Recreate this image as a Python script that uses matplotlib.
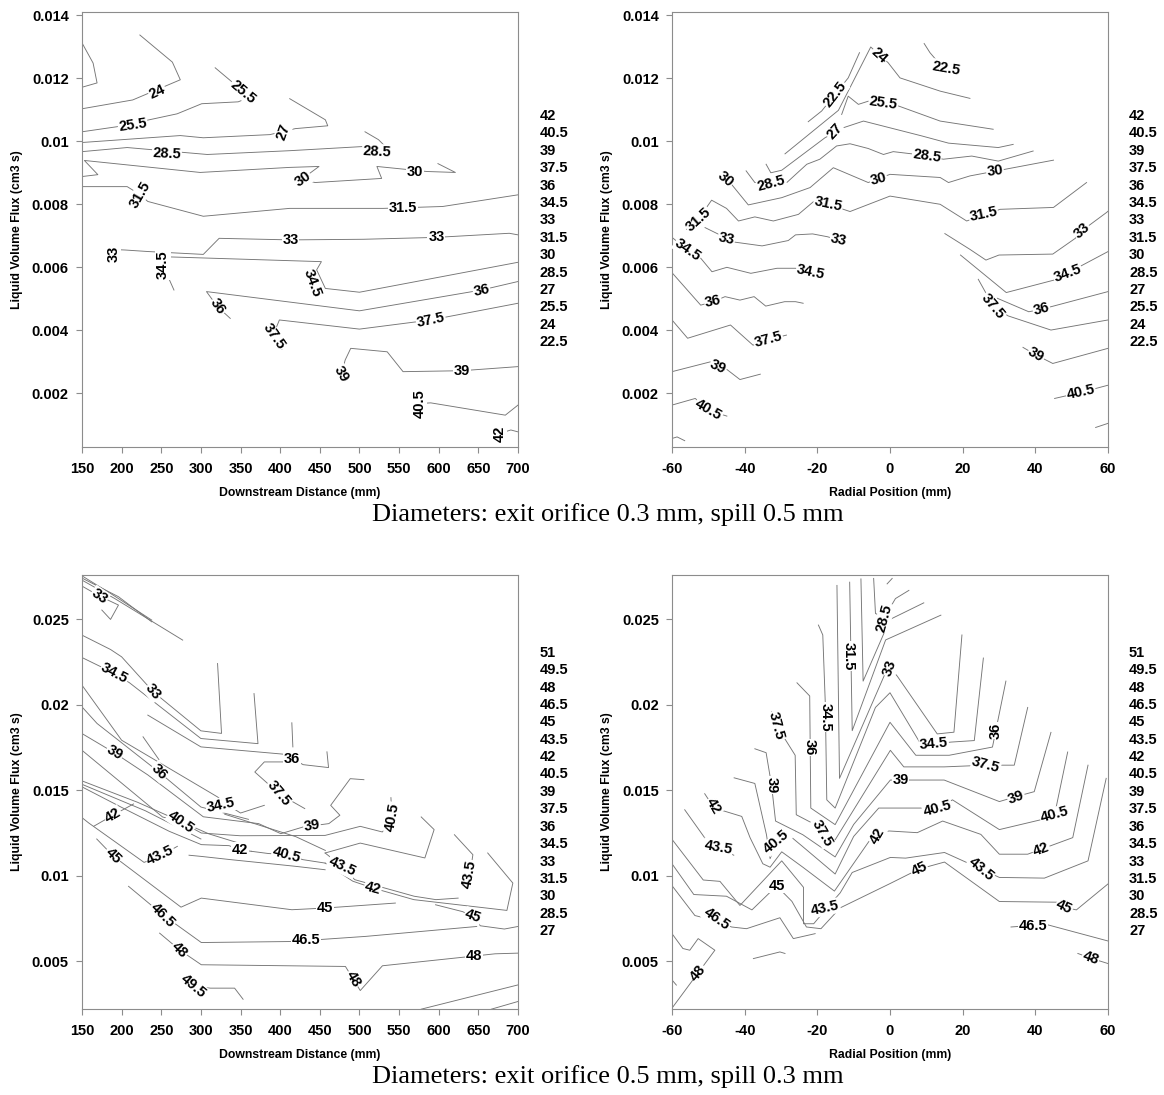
import matplotlib
matplotlib.use("Agg")
import matplotlib.pyplot as plt
from matplotlib.ticker import FuncFormatter

# contour levels listed beside each row of panels
top_levels = [42, 40.5, 39, 37.5, 36, 34.5, 33, 31.5, 30, 28.5, 27, 25.5, 24, 22.5]
bottom_levels = [51, 49.5, 48, 46.5, 45, 43.5, 42, 40.5, 39, 37.5, 36, 34.5, 33, 31.5, 30, 28.5, 27]

distance_ticks = [150, 200, 250, 300, 350, 400, 450, 500, 550, 600, 650, 700]
radial_ticks = [-60, -40, -20, 0, 20, 40, 60]
top_flux_ticks = [0.002, 0.004, 0.006, 0.008, 0.01, 0.012, 0.014]
bottom_flux_ticks = [0.005, 0.01, 0.015, 0.02, 0.025]

captions = ["Diameters: exit orifice 0.3 mm, spill 0.5 mm",
            "Diameters: exit orifice 0.5 mm, spill 0.3 mm"]

# contour pieces: (level, x values, flux values)
tl_lines = [
    (22.5, [150, 164, 169, 151], [0.01312, 0.01248, 0.01185, 0.01172]),
    (24, [150, 214, 274, 264, 223], [0.01103, 0.01131, 0.01195, 0.01251, 0.01337]),
    (25.5, [150, 194, 270, 301, 347, 362, 318], [0.0103, 0.01046, 0.01087, 0.01119, 0.01125, 0.0114, 0.01233]),
    (27, [150, 274, 303, 387, 419, 460, 457, 412], [0.00996, 0.01018, 0.01011, 0.01021, 0.0104, 0.01049, 0.01068, 0.01135]),
    (28.5, [150, 207, 308, 412, 503, 538, 524, 507], [0.00967, 0.0098, 0.00958, 0.0097, 0.00983, 0.0097, 0.01005, 0.0103]),
    (30, [150, 170, 153, 299, 412, 449, 435, 429, 444, 528, 522, 585, 621, 599],
     [0.00888, 0.00894, 0.00939, 0.00901, 0.00917, 0.0092, 0.00894, 0.00879, 0.00869, 0.00882, 0.0092, 0.00904, 0.00901, 0.00929]),
    (31.5, [150, 207, 223, 233, 303, 412, 530, 605, 700], [0.00856, 0.00856, 0.00831, 0.00809, 0.00762, 0.00787, 0.00787, 0.00793, 0.0083]),
    (33, [185, 204, 234, 303, 323, 413, 505, 597, 689, 700], [0.00657, 0.00655, 0.0065, 0.00641, 0.00692, 0.00687, 0.00689, 0.00695, 0.00708, 0.00703]),
    (34.5, [266, 252, 261, 452, 446, 457, 500, 700], [0.00528, 0.00607, 0.00633, 0.00618, 0.00592, 0.00533, 0.00521, 0.00616]),
    (36, [337, 321, 307, 500, 654, 700], [0.00438, 0.00475, 0.00523, 0.00462, 0.00528, 0.00555]),
    (37.5, [402, 392, 399, 500, 590, 700], [0.0034, 0.0039, 0.00433, 0.00404, 0.00433, 0.00486]),
    (39, [477, 482, 489, 535, 555, 629, 700], [0.0026, 0.00306, 0.00343, 0.00332, 0.00269, 0.00272, 0.00285]),
    (40.5, [576, 590, 684, 700], [0.00168, 0.0017, 0.00131, 0.00163]),
    (42, [677, 691, 700], [0.00073, 0.00084, 0.00078]),
]
tl_labels = [
    (24, 245, 0.01157, 25), (25.5, 214, 0.01052, 8), (25.5, 353, 0.01157, -40),
    (27, 404, 0.0103, 70), (28.5, 257, 0.00961, -3), (28.5, 522, 0.00967, -3),
    (30, 429, 0.00879, 35), (30, 570, 0.00904, 0), (31.5, 223, 0.00831, 60),
    (31.5, 555, 0.00787, 0), (33, 190, 0.00644, 90), (33, 413, 0.00687, 0),
    (33, 597, 0.00695, 0), (34.5, 252, 0.00607, 90), (34.5, 440, 0.00549, -70),
    (36, 321, 0.00475, -55), (36, 654, 0.00528, 12), (37.5, 392, 0.0038, -55),
    (37.5, 590, 0.00433, 12), (39, 477, 0.00263, -60), (39, 629, 0.00272, 0),
    (40.5, 576, 0.00168, 90), (42, 677, 0.00073, 90),
]

tr_lines = [
    (22.5, [-22.5, -18.8, -11.5, -8.4], [0.01062, 0.01096, 0.01201, 0.01281]),
    (22.5, [9.4, 11.0, 14.2], [0.0131, 0.01281, 0.01238]),
    (24, [-28.9, -14.2, -5.3, -0.5, 2.75, 13.8, 22.0], [0.0096, 0.01098, 0.01299, 0.01249, 0.01201, 0.01159, 0.01136]),
    (25.5, [-13.3, -11.5, -8.7, -6, 2.3, 13.8, 28.4], [0.01085, 0.01143, 0.01117, 0.01127, 0.01112, 0.01064, 0.01038]),
    (27, [-34.1, -32.8, -29.8, -17.9, -12.8, -7.3, 8.7, 16.1, 29.8, 33.9],
     [0.00927, 0.009, 0.00908, 0.01011, 0.01043, 0.01064, 0.01017, 0.00994, 0.0098, 0.0099]),
    (28.5, [-39.6, -37.2, -28.4, -22.9, -19.3, -14.7, -11.0, -6, -1.8, 0.9, 6.0, 14.7, 22.5, 29.8, 39.4],
     [0.00906, 0.00869, 0.00869, 0.00927, 0.00943, 0.00985, 0.00992, 0.00977, 0.00958, 0.00967, 0.0096, 0.00943, 0.00953, 0.00937, 0.00969]),
    (30, [-45.4, -43.6, -39, -29.8, -22.0, -15.6, -6, 0, 13.8, 16.1, 22.0, 45],
     [0.00879, 0.00863, 0.00798, 0.00821, 0.00853, 0.00916, 0.00869, 0.00895, 0.00885, 0.00869, 0.0089, 0.0094]),
    (31.5, [-56, -52.8, -49.1, -45, -41.7, -37.2, -32.1, -25.2, -21.1, -17, -11, 0, 13.8, 21.1, 30.3, 45, 54.1],
     [0.00721, 0.00752, 0.00813, 0.00787, 0.00747, 0.0076, 0.00747, 0.00768, 0.00808, 0.008, 0.00777, 0.00826, 0.008, 0.00747, 0.00784, 0.0079, 0.00869]),
    (33, [-50.9, -47.2, -43.4, -35.2, -28, -26, -21.3, -17.2, -14.2],
     [0.00726, 0.00705, 0.00681, 0.00668, 0.00685, 0.00703, 0.00706, 0.00697, 0.00687]),
    (33, [15.1, 22, 26.4, 30, 44.8, 51, 52.8, 59.6, 60], [0.00707, 0.00657, 0.00623, 0.00639, 0.00642, 0.00692, 0.00716, 0.00774, 0.00778]),
    (34.5, [-60, -55.7, -52.1, -49, -44.9, -38.3, -31.1, -26, -21.8],
     [0.00695, 0.00655, 0.00629, 0.00586, 0.006, 0.00581, 0.00597, 0.00597, 0.00586]),
    (34.5, [19.4, 32, 45.3, 48.9, 60], [0.00639, 0.0052, 0.0056, 0.00582, 0.0065]),
    (36, [-60, -52.1, -48.7, -45.4, -41.3, -37.4, -34.2, -29, -26, -23.9],
     [0.00583, 0.0048, 0.00491, 0.00507, 0.00496, 0.00507, 0.00477, 0.00491, 0.00491, 0.00486]),
    (36, [29.5, 38.2, 41.7, 60], [0.00502, 0.00459, 0.00467, 0.00523]),
    (37.5, [-60, -55.7, -43.9, -37.7, -33.5, -28.5], [0.00433, 0.00375, 0.00417, 0.00353, 0.0037, 0.00385]),
    (37.5, [24.3, 28.4, 32.5, 44.3, 60], [0.00562, 0.00477, 0.00446, 0.00401, 0.00433]),
    (39, [-60, -49.5, -47.3, -44.9, -41.3, -35.7], [0.00269, 0.003, 0.00285, 0.00276, 0.00244, 0.00261]),
    (39, [36.6, 40.2, 44.8, 60], [0.00346, 0.00322, 0.00295, 0.00343]),
    (40.5, [-60, -53.6, -50, -44.9], [0.00163, 0.00184, 0.00147, 0.00128]),
    (40.5, [45.3, 52.5, 60], [0.00184, 0.00203, 0.00226]),
    (42, [-60, -58.6, -56.5], [0.00057, 0.00062, 0.0005]),
    (42, [56.6, 60], [0.00092, 0.00105]),
]
tr_labels = [
    (22.5, -15.1, 0.01149, 52), (22.5, 15.5, 0.01232, -10), (24, -2.9, 0.01272, -42),
    (25.5, -1.8, 0.01122, -8), (27, -15.1, 0.0103, 48), (28.5, -32.6, 0.00865, 15),
    (28.5, 10.1, 0.00952, -8), (30, -45.4, 0.00879, -40), (30, -3.2, 0.00881, 15),
    (30, 28.9, 0.00905, 8), (31.5, -52.8, 0.00752, 42), (31.5, -17, 0.008, -12),
    (31.5, 25.7, 0.00768, 12), (33, -45, 0.00692, -12), (33, -14.2, 0.00687, -12),
    (33, 52.8, 0.00716, 42), (34.5, -55.7, 0.00655, -35), (34.5, -21.8, 0.00586, -12),
    (34.5, 48.9, 0.0058, 20), (36, -48.7, 0.00491, 12), (36, 41.7, 0.00467, 15),
    (37.5, -33.5, 0.0037, 15), (37.5, 28.4, 0.00477, -50), (39, -47.3, 0.00285, -25),
    (39, 40.2, 0.00322, -30), (40.5, -50, 0.00147, -30), (40.5, 52.5, 0.00203, 12),
]

bl_lines = [
    (27, [150, 186, 238], [0.02755, 0.02652, 0.02496]),
    (28.5, [150, 196, 238], [0.02742, 0.02633, 0.02486]),
    (30, [150, 191, 277], [0.0273, 0.02623, 0.02379]),
    (33, [150, 172, 196, 186, 175], [0.02695, 0.02637, 0.02584, 0.025, 0.02555]),
    (33, [150, 186, 200, 240, 300, 326, 321], [0.02408, 0.02324, 0.02281, 0.02076, 0.01848, 0.01833, 0.02242]),
    (34.5, [150, 191, 210, 300, 372, 367], [0.02277, 0.02184, 0.02129, 0.01803, 0.01773, 0.02066]),
    (36, [233, 300, 405, 429, 461, 459], [0.0194, 0.01754, 0.01711, 0.0165, 0.01633, 0.01725]),
    (34.5, [414.7, 416], [0.01895, 0.01754]),
    (34.5, [150, 200, 321, 335, 350, 380], [0.02115, 0.01793, 0.01461, 0.0141, 0.01367, 0.01412]),
    (37.5, [227, 247], [0.01813, 0.0168]),
    (37.5, [403, 380, 368, 382, 398, 431], [0.01666, 0.01666, 0.01607, 0.01549, 0.0148, 0.01393]),
    (36, [150, 169, 247, 300, 360], [0.01988, 0.01891, 0.01607, 0.01402, 0.0133]),
    (37.5, [330, 420, 457], [0.0136, 0.01228, 0.01148]),
    (39, [150, 191, 233, 303, 372.8, 400.8, 428.7, 461.4, 475.3, 463.7, 488.4, 505.6],
     [0.01832, 0.01719, 0.0159, 0.01345, 0.01305, 0.01246, 0.01285, 0.01305, 0.01354, 0.01412, 0.01568, 0.01562]),
    (40.5, [150, 251.6, 275, 300.5, 349.5, 456.7, 501, 528.9, 541, 539.7],
     [0.01734, 0.01344, 0.01314, 0.0125, 0.01234, 0.01236, 0.01289, 0.01256, 0.01344, 0.01457]),
    (40.5, [150, 220, 310, 345], [0.01555, 0.0143, 0.01245, 0.01195]),
    (42, [150, 230, 300], [0.01535, 0.0138, 0.01215]),
    (42, [150, 200, 260, 300.5, 335.5, 349, 363.5], [0.0152, 0.014, 0.0126, 0.01182, 0.01176, 0.01152, 0.01143]),
    (42, [165, 189, 215], [0.0129, 0.01354, 0.0142]),
    (40.5, [363.5, 385, 408, 428.7, 456.7], [0.01143, 0.0113, 0.01123, 0.01094, 0.01074]),
    (43.5, [150, 158.4, 228.3, 249, 270.3], [0.0134, 0.01309, 0.01078, 0.01117, 0.01172]),
    (43.5, [285, 300.5, 337.8, 358.8, 400.8, 419.4, 456.7], [0.0112, 0.01113, 0.01094, 0.01084, 0.01064, 0.01055, 0.01035]),
    (42, [456.7, 501, 582.5, 594.2, 577.9], [0.01133, 0.01191, 0.01104, 0.0127, 0.01344]),
    (43.5, [456.7, 478, 494, 569, 596.5, 624.5], [0.01133, 0.01055, 0.00977, 0.0088, 0.0086, 0.00869]),
    (42, [456.7, 491.6, 517, 568.6, 686, 693.5, 661.8], [0.01074, 0.00968, 0.00928, 0.0086, 0.00797, 0.00957, 0.01133]),
    (43.5, [619.8, 643.1, 640, 637], [0.0124, 0.01123, 0.0103, 0.0093]),
    (45, [168.6, 189, 274.9, 300.5, 414.7, 457, 545.3], [0.01215, 0.01117, 0.00816, 0.00869, 0.00801, 0.00811, 0.0084]),
    (45, [596, 630, 643, 652.5, 682.8, 700], [0.0083, 0.0079, 0.00762, 0.00707, 0.00688, 0.00703]),
    (46.5, [208.7, 252, 300.5, 414.7, 433, 508, 648], [0.00938, 0.00771, 0.00609, 0.00615, 0.00621, 0.00645, 0.00703]),
    (48, [247.9, 273, 300.5, 482.3, 492, 501, 529, 645, 671, 700],
     [0.00664, 0.00566, 0.00479, 0.00469, 0.00396, 0.00328, 0.00473, 0.0053, 0.00543, 0.00547]),
    (49.5, [280, 291, 312.2, 342.5, 353.2], [0.0037, 0.00352, 0.00342, 0.00342, 0.00277]),
    (49.5, [577.9, 700], [0.00219, 0.00361]),
    (51, [666.4, 700], [0.00219, 0.00264]),
]
bl_labels = [
    (33, 172, 0.02637, -35), (34.5, 191, 0.02184, -28), (33, 240, 0.02076, -50),
    (36, 415, 0.01686, 0), (39, 191, 0.01719, -30), (36, 247, 0.01607, -45),
    (37.5, 398, 0.0148, -50), (34.5, 325, 0.01412, 12), (42, 189, 0.01354, 30),
    (40.5, 275, 0.01314, -35), (39, 440, 0.01295, 10), (40.5, 541, 0.01344, 80),
    (45, 189, 0.01117, -45), (43.5, 249, 0.01117, 25), (42, 349, 0.01152, 0),
    (40.5, 408, 0.01123, -15), (43.5, 478, 0.01055, -25), (42, 517, 0.00928, -15),
    (43.5, 638, 0.01006, 80), (45, 457, 0.00811, 0), (45, 643, 0.00762, -20),
    (46.5, 252, 0.00771, -45), (46.5, 433, 0.00621, 0), (48, 273, 0.00566, -45),
    (48, 492, 0.00396, -60), (48, 645, 0.0053, 0), (49.5, 291, 0.00352, -40),
]

br_lines = [
    (27, [-0.8, 0.6], [0.02708, 0.0274]),
    (28.5, [-4.5, -4.0, -1.6, 1.5, 5.2], [0.0274, 0.02535, 0.0251, 0.02622, 0.0267]),
    (30, [-8, -7.4, 0, 9.3], [0.02737, 0.02139, 0.025, 0.02597]),
    (31.5, [-11.1, -10.4, -1.2, 14], [0.02718, 0.01849, 0.0238, 0.02525]),
    (33, [-14.6, -13.9, -1.2, 0, 2, 13, 17.6, 19.8], [0.02699, 0.0157, 0.0219, 0.02216, 0.02168, 0.0183, 0.0184, 0.02409]),
    (34.5, [-19.7, -18.5, -17.8, -17.4, -15.1, -4, 0, 7.1, 8.4, 12.1, 16.7, 23.2, 25.7],
     [0.02467, 0.02409, 0.02004, 0.01444, 0.01396, 0.01985, 0.02071, 0.01819, 0.01772, 0.01768, 0.01782, 0.01791, 0.02274]),
    (36, [-25.6, -22.1, -21.8, -15.1, 0, 7.1, 16.3, 28.2, 31.9],
     [0.02129, 0.02052, 0.01396, 0.01299, 0.01898, 0.01705, 0.01705, 0.01753, 0.02139]),
    (37.5, [-32.6, -31.2, -26.1, -25.8, -20.6, -18.7, -15.1, 0.1, 3.8, 14.9, 26.4, 34.2, 37.9],
     [0.0196, 0.01878, 0.01705, 0.01357, 0.01299, 0.0125, 0.0121, 0.01734, 0.01637, 0.01637, 0.01647, 0.01647, 0.01985]),
    (39, [-37.2, -34.1, -32.6, -31.5, -24, -15.1, -10, 0.1, 2.9, 14.9, 30.1, 34.7, 39.7, 44.3],
     [0.01743, 0.0172, 0.0153, 0.0132, 0.0124, 0.0111, 0.013, 0.0156, 0.0156, 0.0156, 0.01434, 0.01463, 0.01492, 0.01839]),
    (40.5, [-42.9, -37.2, -34, -33, -31.2, -28.5, -24, -15.1, -10, -3.1, 8.4, 13, 17.2, 30.1, 41.6, 45.3, 48.9],
     [0.01573, 0.0154, 0.0124, 0.011, 0.012, 0.0125, 0.0117, 0.0101, 0.0123, 0.01396, 0.01396, 0.01396, 0.01444, 0.0127, 0.01328, 0.01357, 0.01724]),
    (42, [-51, -48.7, -46.8, -40.8, -38.5, -35, -33, -29.8, -24, -15.3, -5.4, -3.4, -0.3, 7.5, 14.5, 25, 30.1, 37.9, 41.6, 50.3, 54.5],
     [0.0148, 0.01405, 0.01386, 0.01347, 0.01222, 0.0107, 0.0105, 0.0114, 0.0105, 0.0091, 0.01213, 0.01233, 0.01262, 0.01252, 0.0132, 0.01242, 0.01126, 0.01126, 0.01155, 0.01223, 0.01647]),
    (43.5, [-56.5, -51, -47.3, -43], [0.01386, 0.01222, 0.01165, 0.0112]),
    (43.5, [-60, -51.4, -46.8, -41.3, -29.8, -23.8, -23.8, -21, -17.4, -13.7, -10.4, 0.1, 4.3, 15, 25, 30.1, 42.5, 54.5, 56.5, 59.5],
     [0.01213, 0.00975, 0.00967, 0.00826, 0.01087, 0.00932, 0.00719, 0.00719, 0.0081, 0.009, 0.01019, 0.01107, 0.01103, 0.01136, 0.0104, 0.0099, 0.00986, 0.01087, 0.0128, 0.0157]),
    (45, [-60, -54, -45, -38, -31.2, -27, -23, -19, -13.7, 0.1, 8, 15, 30.1, 46.2, 47.9, 51.3, 60],
     [0.0107, 0.0089, 0.0088, 0.008, 0.0094, 0.0085, 0.007, 0.0069, 0.00812, 0.00955, 0.01039, 0.0108, 0.00849, 0.00845, 0.00816, 0.008, 0.00952]),
    (46.5, [-60, -53.7, -47.7, -43.6, -39.5, -30.3, -26.6, -20.6], [0.00942, 0.00767, 0.00735, 0.007, 0.0069, 0.00754, 0.00632, 0.00661]),
    (46.5, [33.3, 43, 60], [0.007, 0.00715, 0.00618]),
    (48, [-60, -57, -55.1, -52.8, -48.2, -52.8, -60], [0.00661, 0.00574, 0.00564, 0.00632, 0.00564, 0.00432, 0.00225]),
    (48, [-60, -58.8], [0.0039, 0.0036]),
    (48, [-37.6, -30.3, -28.9], [0.00515, 0.00554, 0.00545]),
    (48, [51.7, 55.2, 60], [0.00545, 0.00518, 0.00486]),
]
br_labels = [
    (28.5, -1.6, 0.0251, 75), (31.5, -11.4, 0.02284, -90), (33, 0, 0.02216, 70),
    (34.5, -17.7, 0.01927, -90), (34.5, 12.1, 0.0177, 5), (36, -22.0, 0.0175, -90),
    (36, 29.2, 0.0185, 90), (37.5, -31.2, 0.01878, -75), (37.5, -18.7, 0.0125, -60),
    (37.5, 26.4, 0.01647, -15), (39, -32.6, 0.0153, -90), (39, 2.9, 0.0156, 0),
    (39, 34.7, 0.0146, 20), (40.5, -31.2, 0.012, 40), (40.5, 13, 0.01396, 15),
    (40.5, 45.3, 0.01357, 15), (42, -48.7, 0.01405, -60), (42, -3.4, 0.01233, 60),
    (42, 41.6, 0.01155, 20), (43.5, -47.3, 0.01165, -10), (43.5, -17.8, 0.00812, 12),
    (43.5, 25, 0.0104, -40), (45, -31.2, 0.00942, 0), (45, 8, 0.01039, 25),
    (45, 47.9, 0.00816, -25), (46.5, -47.7, 0.00745, -35), (46.5, 39.3, 0.00707, 0),
    (48, -52.8, 0.00432, 50), (48, 55.2, 0.00518, -20),
]

W, H = 1164, 1095
plt.rcParams['font.family'] = ['Liberation Sans', 'DejaVu Sans']
plt.rcParams['axes.unicode_minus'] = False
fig = plt.figure(figsize=(W / 100, H / 100), dpi=100)

line_color = '#757575'
frame_color = '#8c8c8c'


def flux_fmt(v, pos):
    return '%g' % v


def draw_panel(rect, lines, labels, xticks, xlim, yticks, ylim, xlabel):
    ax = fig.add_axes(rect)
    for level, xs, ys in lines:
        ax.plot(xs, ys, color=line_color, lw=0.65, zorder=2)
    for level, x, y, rot in labels:
        ax.text(x, y, '%g' % level, rotation=rot, rotation_mode='anchor',
                ha='center', va='center', fontsize=10.5, fontweight='bold',
                zorder=3, bbox=dict(boxstyle='square,pad=0.05', fc='white', ec='none'))
    ax.set_xlim(xlim)
    ax.set_ylim(ylim)
    ax.set_xticks(xticks)
    ax.set_yticks(yticks)
    ax.yaxis.set_major_formatter(FuncFormatter(flux_fmt))
    ax.tick_params(direction='out', length=4.5, width=0.8, color=frame_color,
                   labelsize=10.5, top=False, right=False)
    ax.tick_params(axis='x', pad=6)
    ax.tick_params(axis='y', pad=5)
    for lab in ax.get_xticklabels() + ax.get_yticklabels():
        lab.set_fontweight('bold')
    for sp in ax.spines.values():
        sp.set_color(frame_color)
        sp.set_linewidth(0.8)
    ax.set_xlabel(xlabel, fontsize=8.8, fontweight='bold')
    ax.set_ylabel('Liquid Volume Flux (cm3 s)', fontsize=8.8, fontweight='bold')
    ax.xaxis.set_label_coords(0.5, -46 / 435)
    ax.xaxis.label.set_va('center')
    ax.yaxis.set_label_coords(-65 / 436, 0.5)
    ax.yaxis.label.set_va('center')
    return ax


def px_rect(left, top, right, bottom):
    return [left / W, 1 - bottom / H, (right - left) / W, (bottom - top) / H]


draw_panel(px_rect(82, 12, 518, 447), tl_lines, tl_labels, distance_ticks, (150, 700),
           top_flux_ticks, (0.0003, 0.0141), 'Downstream Distance (mm)')
draw_panel(px_rect(672, 12, 1108, 447), tr_lines, tr_labels, radial_ticks, (-60, 60),
           top_flux_ticks, (0.0003, 0.0141), 'Radial Position (mm)')
draw_panel(px_rect(82, 575, 518, 1009), bl_lines, bl_labels, distance_ticks, (150, 700),
           bottom_flux_ticks, (0.0022, 0.0276), 'Downstream Distance (mm)')
draw_panel(px_rect(672, 575, 1108, 1009), br_lines, br_labels, radial_ticks, (-60, 60),
           bottom_flux_ticks, (0.0022, 0.0276), 'Radial Position (mm)')

# level lists beside the panels
for x0 in (540, 1129):
    for i, lev in enumerate(top_levels):
        fig.text(x0 / W, 1 - (116 + i * 17.4) / H, '%g' % lev, ha='left', va='center',
                 fontsize=10.5, fontweight='bold')
    for i, lev in enumerate(bottom_levels):
        fig.text(x0 / W, 1 - (652.7 + i * 17.4) / H, '%g' % lev, ha='left', va='center',
                 fontsize=10.5, fontweight='bold')

fig.text(608 / W, 1 - 515 / H, captions[0], ha='center', va='center',
         fontsize=19, family=['Liberation Serif', 'DejaVu Serif'])
fig.text(608 / W, 1 - 1077 / H, captions[1], ha='center', va='center',
         fontsize=19, family=['Liberation Serif', 'DejaVu Serif'])

fig.savefig('out.png', dpi=100)
